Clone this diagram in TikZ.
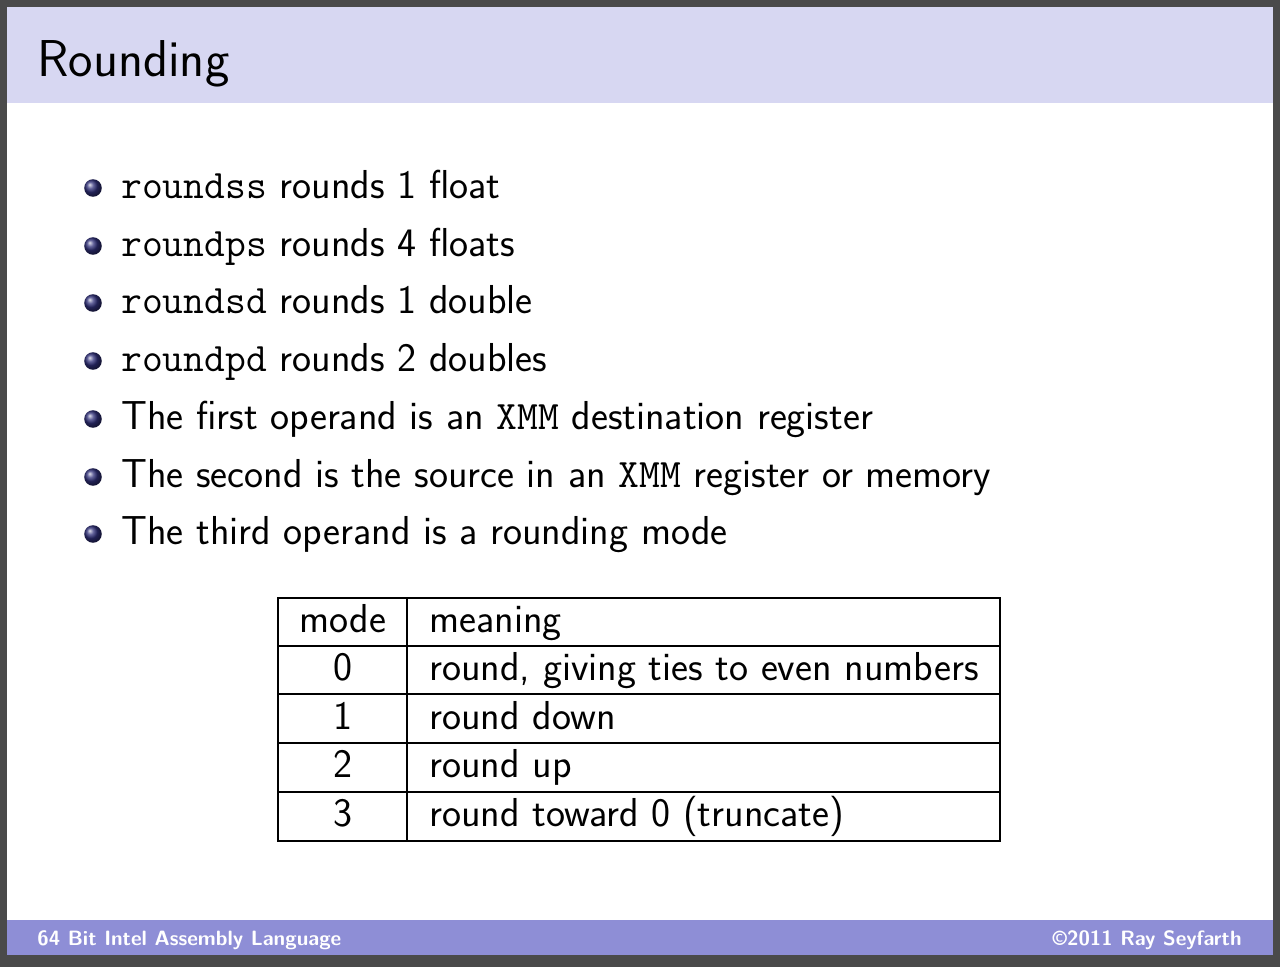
\documentclass[tikz,border=0pt]{standalone}
\usepackage{fontspec}
\setmainfont{Latin Modern Sans}
\setmonofont{Latin Modern Mono}
\begin{document}
\begin{tikzpicture}[x=0.02cm,y=-0.02cm]
\definecolor{hdr}{HTML}{D7D7F2}
\definecolor{ftr}{HTML}{8E8ED6}
\definecolor{frm}{HTML}{4A4A4A}
\definecolor{ballc}{HTML}{30307A}
\tikzset{
  body/.style={anchor=base west,inner sep=0pt,font=\fontsize{23}{26}\selectfont},
  cell/.style={anchor=base,inner sep=0pt,font=\fontsize{23}{26}\selectfont},
  celll/.style={anchor=base west,inner sep=0pt,font=\fontsize{23}{26}\selectfont},
  bul/.style={circle,inner sep=0pt,minimum size=10pt,ball color=ballc}
}
\useasboundingbox (0,0) rectangle (1280,967);
\fill[frm] (0,0) rectangle (1280,967);
\fill[white] (7,7) rectangle (1273,955);
\fill[hdr] (7,7) rectangle (1273,103);
\fill[ftr] (7,920) rectangle (1273,955);
\node[anchor=base west,inner sep=0pt,font=\fontsize{29.5}{32}\selectfont] (title) at (37,76) {Rounding};
\node[anchor=base west,inner sep=0pt,text=white,font=\fontsize{11.8}{14}\selectfont\bfseries] (fl) at (37,945) {64 Bit Intel Assembly Language};
\node[anchor=base east,inner sep=0pt,text=white,font=\fontsize{11.8}{14}\selectfont\bfseries] (fr) at (1242,945) {\textcopyright2011 Ray Seyfarth};
\foreach \y/\t [count=\i] in {
 198/{\texttt{roundss} rounds 1 float},
 256/{\texttt{roundps} rounds 4 floats},
 313/{\texttt{roundsd} rounds 1 double},
 371/{\texttt{roundpd} rounds 2 doubles},
 429/{The first operand is an \texttt{XMM} destination register},
 487/{The second is the source in an \texttt{XMM} register or memory},
 544/{The third operand is a rounding mode}}{
  \node[bul] (b\i) at (93,\y-10) {};
  \node[body] (t\i) at (121,\y) {\t};
}
\draw[line width=0.9pt] (278,598) rectangle (1000,841);
\foreach \y in {646,694,743,792} \draw[line width=0.9pt] (278,\y) -- (1000,\y);
\draw[line width=0.9pt] (407,598) -- (407,841);
\foreach \y/\m/\d [count=\i] in {
 632/mode/meaning,
 680/0/{round, giving ties to even numbers},
 729/1/round down,
 777/2/round up,
 826/3/round toward 0 (truncate)}{
  \node[cell] (m\i) at (343,\y) {\m};
  \node[celll] (d\i) at (429,\y) {\d};
}
\end{tikzpicture}
\end{document}
